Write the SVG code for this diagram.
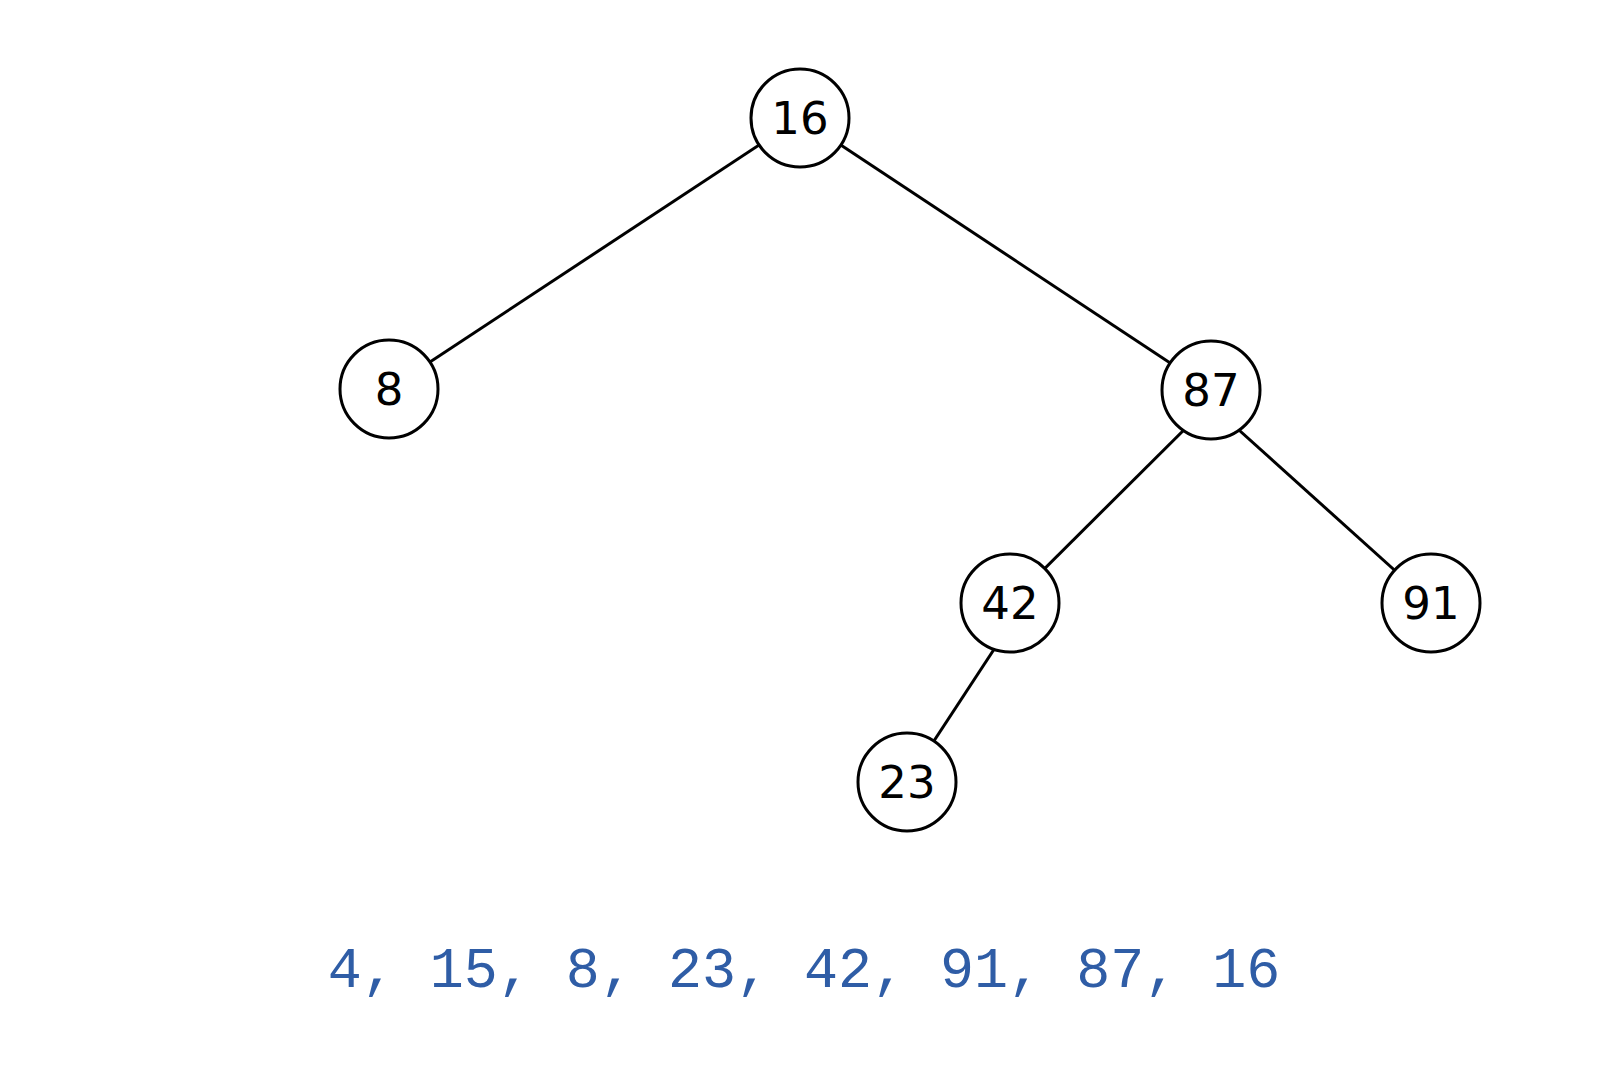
<svg xmlns="http://www.w3.org/2000/svg" width="1600" height="1080" viewBox="0 0 1600 1080">
<style>
.node circle{fill:#fff;stroke:#000;stroke-width:3}
.node text{font-family:"DejaVu Sans",sans-serif;font-size:45px;text-anchor:middle;fill:#000}
.edges line{stroke:#000;stroke-width:3}
.seq{font-family:"Liberation Mono",monospace;font-size:56.7px;text-anchor:middle;fill:#2f5da6}
</style>
<rect width="1600" height="1080" fill="#fff"/>
<g id="edges" class="edges">
<line x1="800" y1="118" x2="389" y2="389"/>
<line x1="800" y1="118" x2="1211" y2="390"/>
<line x1="1210" y1="404" x2="1010" y2="603"/>
<line x1="1210" y1="404" x2="1431" y2="603"/>
<line x1="1010" y1="625" x2="907" y2="782"/>
</g>
<g id="n16" class="node"><circle cx="800" cy="118" r="49"/><text x="800" y="134">16</text></g>
<g id="n8" class="node"><circle cx="389" cy="389" r="49"/><text x="389" y="405">8</text></g>
<g id="n87" class="node"><circle cx="1211" cy="390" r="49"/><text x="1211" y="406">87</text></g>
<g id="n42" class="node"><circle cx="1010" cy="603" r="49"/><text x="1010" y="619">42</text></g>
<g id="n91" class="node"><circle cx="1431" cy="603" r="49"/><text x="1431" y="619">91</text></g>
<g id="n23" class="node"><circle cx="907" cy="782" r="49"/><text x="907" y="798">23</text></g>
<text class="seq" x="804" y="987">4, 15, 8, 23, 42, 91, 87, 16</text>
</svg>
